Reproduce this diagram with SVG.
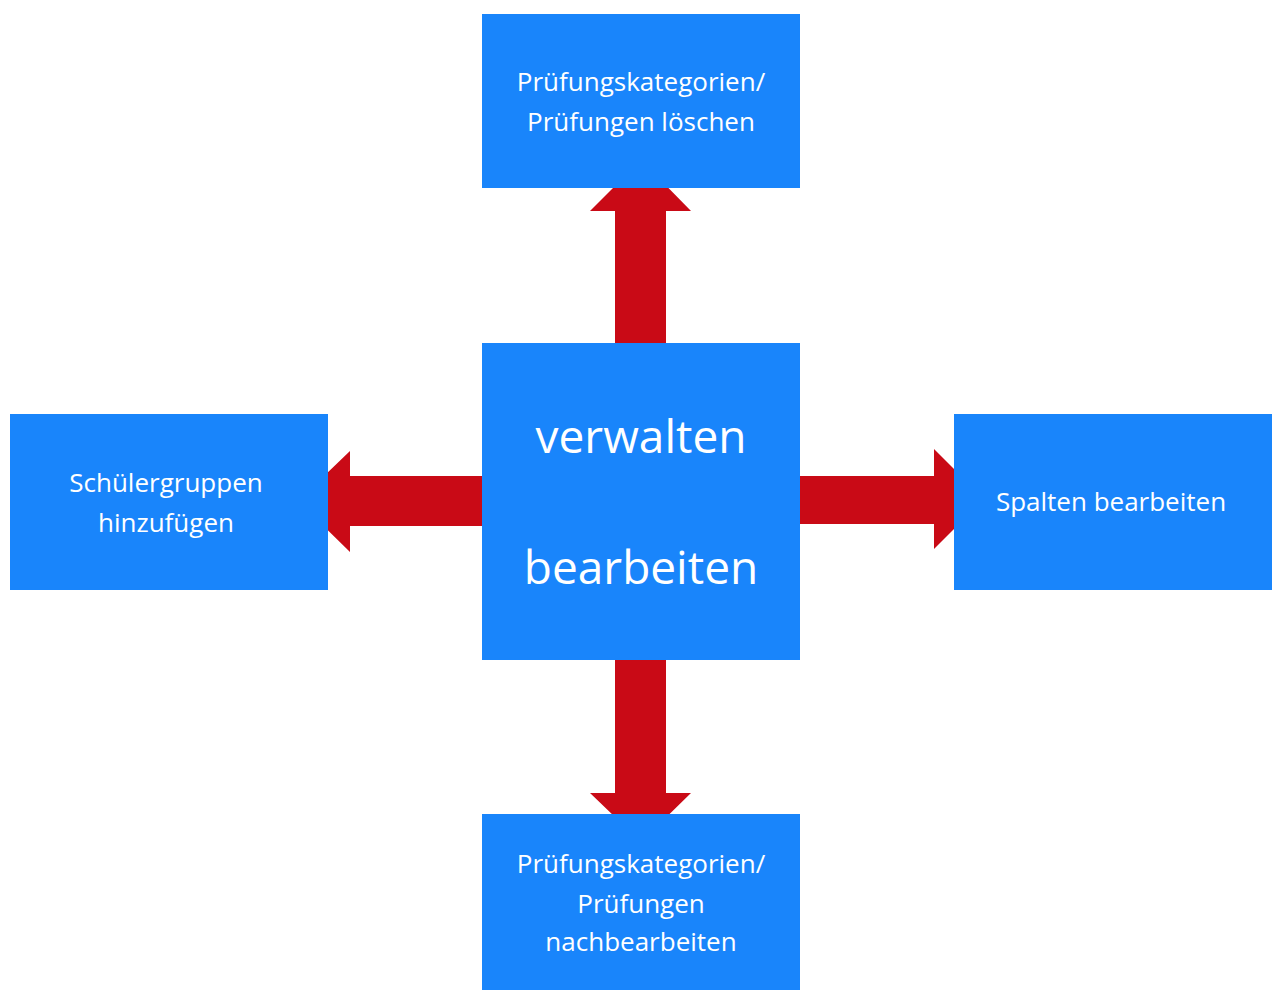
<svg xmlns="http://www.w3.org/2000/svg" width="1282" height="1006" viewBox="0 0 1282 1006">
<style>
.box{fill:#1985fb}
.arr{fill:#c90a16}
text{fill:#fff;font-family:"Open Sans","Liberation Sans",sans-serif;text-anchor:middle}
.s{font-size:26px}
.b{font-size:46px}
</style>
<rect width="1282" height="1006" fill="#fff"/>
<g id="connectors">
<polygon class="arr" points="615,343 615,211 590,211 641,160 691,211 666,211 666,343"/>
<polygon class="arr" points="482,476 350,476 350,451 298,501 350,552 350,526 482,526"/>
<polygon class="arr" points="800,476 934,476 934,449 984,499 934,549 934,524 800,524"/>
<polygon class="arr" points="615,660 615,793 590,793 641,842 691,793 666,793 666,660"/>
</g>
<g id="top"><rect class="box" x="482" y="14" width="318" height="174"/>
<text class="s" x="641" y="91">Prüfungskategorien/</text><text class="s" x="641" y="131">Prüfungen löschen</text></g>
<g id="center"><rect class="box" x="482" y="343" width="318" height="317"/>
<text class="b" x="641" y="453">verwalten</text><text class="b" x="641" y="584">bearbeiten</text></g>
<g id="left"><rect class="box" x="10" y="414" width="318" height="176"/>
<text class="s" x="166" y="492">Schülergruppen</text><text class="s" x="166" y="532">hinzufügen</text></g>
<g id="right"><rect class="box" x="954" y="414" width="318" height="176"/>
<text class="s" x="1111" y="511">Spalten bearbeiten</text></g>
<g id="bottom"><rect class="box" x="482" y="814" width="318" height="176"/>
<text class="s" x="641" y="873">Prüfungskategorien/</text><text class="s" x="641" y="913">Prüfungen</text><text class="s" x="641" y="951">nachbearbeiten</text></g>
</svg>
